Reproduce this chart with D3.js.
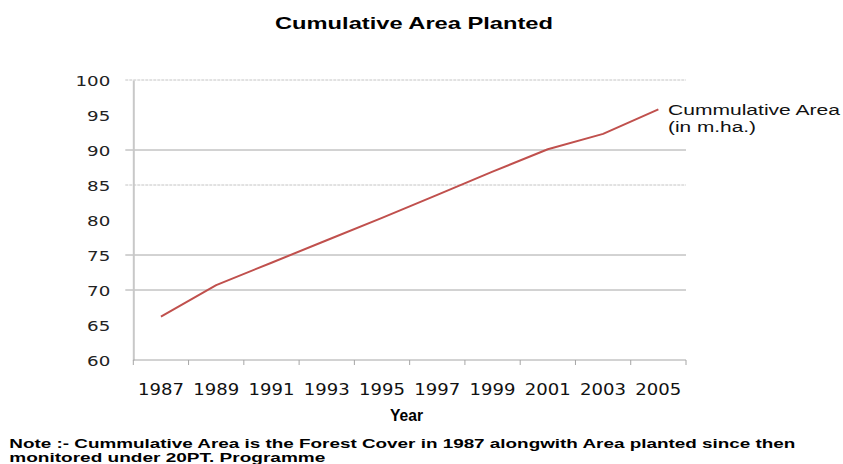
<!DOCTYPE html>
<html>
<head>
<meta charset="utf-8">
<script src="https://cdn.jsdelivr.net/npm/d3@7/dist/d3.min.js"></script>
<style>
  body { margin: 0; background: #fff; }
  svg { display: block; }
</style>
</head>
<body>
<svg id="chart" width="843" height="464"></svg>
<script>
// Cumulative area planted (million ha), every second year
const years = ["1987", "1989", "1991", "1993", "1995", "1997", "1999", "2001", "2003", "2005"];
const cumulativeArea = [66.2, 70.7, 73.9, 77.1, 80.3, 83.6, 86.9, 90.1, 92.3, 95.8];
const yTickValues = [60, 65, 70, 75, 80, 85, 90, 95, 100];
const gridValues = [100, 90, 85, 75, 70];
const faintGrid = [100, 85];
const seriesLabel = ["Cummulative Area", "(in m.ha.)"];
const noteLines = [
  "Note :- Cummulative Area is the Forest Cover in 1987 alongwith Area planted since then",
  "monitored under 20PT. Programme"
];

const svg = d3.select("#chart");
const plot = { left: 133.3, right: 686, top: 80, bottom: 360 };

const x = d3.scaleBand().domain(years).range([plot.left, plot.right]).padding(0);
const y = d3.scaleLinear().domain([60, 100]).range([plot.bottom, plot.top]);
const cx = d => x(d) + x.bandwidth() / 2;

// Horizontal gridlines
svg.append("g").selectAll("line")
  .data(gridValues)
  .join("line")
  .attr("x1", plot.left - 8).attr("x2", plot.right)
  .attr("y1", d => y(d)).attr("y2", d => y(d))
  .attr("stroke", d => faintGrid.includes(d) ? "#c4c4c4" : "#a6a6a6")
  .attr("stroke-dasharray", d => faintGrid.includes(d) ? "3,1" : null)
  .attr("stroke-width", 1);

// Y axis (labels from the axis generator)
const yAxis = svg.append("g")
  .attr("transform", `translate(${plot.left},0)`)
  .call(d3.axisLeft(y).tickValues(yTickValues).tickSize(0).tickPadding(23));
yAxis.select(".domain").attr("stroke", "#c8c8c8").attr("stroke-width", 2);
yAxis.selectAll("text")
  .attr("font-family", "DejaVu Sans, Verdana, sans-serif")
  .attr("font-size", 14)
  .attr("fill", "#222")
  .attr("dy", "0.36em")
  .attr("textLength", function () { return this.textContent.length * 11.6; })
  .attr("lengthAdjust", "spacingAndGlyphs");

// X axis line and boundary ticks
svg.append("line")
  .attr("x1", plot.left).attr("x2", plot.right)
  .attr("y1", plot.bottom).attr("y2", plot.bottom)
  .attr("stroke", "#a6a6a6").attr("stroke-width", 1);
const edges = years.map(d => x(d)).concat([x.range()[1]]);
svg.append("g").selectAll("line")
  .data(edges)
  .join("line")
  .attr("x1", d => d).attr("x2", d => d)
  .attr("y1", plot.bottom).attr("y2", plot.bottom + 5)
  .attr("stroke", "#a6a6a6");

const xAxis = svg.append("g")
  .attr("transform", `translate(0,${plot.bottom})`)
  .call(d3.axisBottom(x).tickSize(0).tickPadding(0));
xAxis.select(".domain").remove();
xAxis.selectAll("text")
  .attr("font-family", "DejaVu Sans, sans-serif")
  .attr("font-size", 15)
  .attr("fill", "#111")
  .attr("y", 35).attr("dy", 0)
  .attr("textLength", 46)
  .attr("lengthAdjust", "spacingAndGlyphs");

// Series line
const line = d3.line().x((d, i) => cx(years[i])).y(d => y(d));
svg.append("path")
  .datum(cumulativeArea)
  .attr("d", line)
  .attr("fill", "none")
  .attr("stroke", "#c0504d")
  .attr("stroke-width", 2)
  .attr("stroke-linejoin", "round");

// Series label
svg.append("g").selectAll("text")
  .data(seriesLabel)
  .join("text")
  .attr("x", 668)
  .attr("y", (d, i) => 115 + i * 16.5)
  .attr("font-family", "Liberation Sans, Arial, sans-serif")
  .attr("font-size", 14)
  .attr("fill", "#111")
  .attr("textLength", (d, i) => i === 0 ? 172 : 88)
  .attr("lengthAdjust", "spacingAndGlyphs")
  .text(d => d);

// Title
svg.append("text")
  .attr("x", 275).attr("y", 29.3)
  .attr("font-family", "Liberation Sans, Arial, sans-serif")
  .attr("font-size", 17).attr("font-weight", "bold")
  .attr("fill", "#000")
  .attr("textLength", 278).attr("lengthAdjust", "spacingAndGlyphs")
  .text("Cumulative Area Planted");

// Axis title
svg.append("text")
  .attr("x", 390).attr("y", 421)
  .attr("font-family", "Liberation Sans, Arial, sans-serif")
  .attr("font-size", 16).attr("font-weight", "bold")
  .attr("fill", "#000")
  .attr("textLength", 33).attr("lengthAdjust", "spacingAndGlyphs")
  .text("Year");

// Footnote
svg.append("g").selectAll("text")
  .data(noteLines)
  .join("text")
  .attr("x", 9.3)
  .attr("y", (d, i) => 447.5 + i * 14)
  .attr("font-family", "Liberation Sans, Arial, sans-serif")
  .attr("font-size", 13).attr("font-weight", "bold")
  .attr("fill", "#000")
  .attr("textLength", (d, i) => i === 0 ? 786 : 316)
  .attr("lengthAdjust", "spacingAndGlyphs")
  .text(d => d);
</script>
</body>
</html>
